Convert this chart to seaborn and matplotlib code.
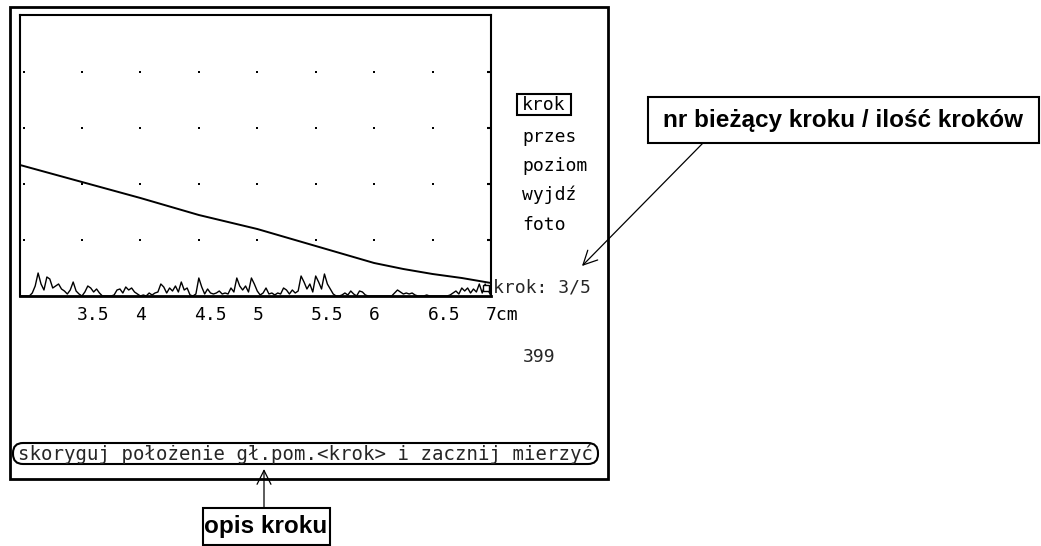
import numpy as np
import pandas as pd
import matplotlib
matplotlib.use("Agg")
import matplotlib.pyplot as plt
from matplotlib.patches import Rectangle, FancyBboxPatch, FancyArrowPatch
import matplotlib.transforms as mtransforms
import seaborn as sns

# ---- data -------------------------------------------------------------
# measured profile (position in cm, level in screen units)
profile_x = [2.97, 3.5, 4.0, 4.5, 5.0, 5.5, 6.0, 6.25, 6.5, 6.75, 7.0]
profile_y = [131, 114, 98, 81, 67, 50, 33, 27, 22, 18, 13]

# raw detector signal, sampled every 0.025 cm starting at 2.975 cm
signal_start = 2.975
signal_step = 0.025
signal_y = [
    0, 0, 0, 0, 3, 10, 23, 12, 6, 19, 17,
    8, 10, 12, 7, 5, 2, 6, 14, 5, 2,
    0, 4, 10, 8, 4, 7, 3, 0, 0, 0,
    0, 1, 6, 7, 3, 9, 6, 8, 4, 2,
    0, 1, 0, 3, 1, 3, 4, 12, 9, 3,
    8, 5, 10, 4, 14, 6, 8, 1, 0, 2,
    18, 9, 2, 7, 3, 2, 3, 5, 2, 3,
    2, 8, 4, 18, 10, 6, 10, 4, 18, 12,
    5, 1, 3, 8, 2, 3, 1, 3, 2, 8,
    6, 2, 6, 3, 5, 20, 14, 7, 12, 4,
    20, 14, 7, 22, 12, 7, 2, 0, 0, 1,
    3, 1, 5, 2, 0, 5, 4, 1, 0, 0,
    0, 0, 0, 0, 0, 0, 0, 3, 6, 4,
    2, 3, 2, 3, 1, 0, 0, 0, 1, 0,
    0, 0, 0, 0, 0, 0, 1, 3, 5, 2,
    8, 5, 8, 3, 7, 4, 12, 3, 12, 6,
    0,
]
signal_x = [signal_start + signal_step * i for i in range(len(signal_y))]

x_ticks = [3.0, 3.5, 4.0, 4.5, 5.0, 5.5, 6.0, 6.5, 7.0]
x_tick_labels = ["", "3.5", "4", "4.5", "5", "5.5", "6", "6.5", "7cm"]
grid_x = [3.0, 3.5, 4.0, 4.5, 5.0, 5.5, 6.0, 6.5]
grid_y = [56, 112, 168, 224]

menu_items = ["krok", "przes", "poziom", "wyjdź", "foto"]
step_text = "krok: 3/5"
counter_text = "399"
hint_text = "skoryguj położenie gł.pom.<krok> i zacznij mierzyć"
note_step_count = "nr bieżący kroku / ilość kroków"
note_step_desc = "opis kroku"

# ---- figure -----------------------------------------------------------
sns.set_theme(style="white")
plt.rcParams["font.family"] = ["DejaVu Sans Mono", "DejaVu Sans"]

W, H = 1041, 546
fig = plt.figure(figsize=(W / 100, H / 100), dpi=100)
fig.patch.set_facecolor("white")

# plot area (placed in pixel terms: left 20, right 491, top 15, bottom 296)
ax = fig.add_axes([20 / W, 1 - 296 / H, 471 / W, 281 / H])
ax.set_facecolor("white")

sig_df = pd.DataFrame({"x": signal_x, "y": signal_y})
prof_df = pd.DataFrame({"x": profile_x, "y": profile_y})
sns.lineplot(data=sig_df, x="x", y="y", ax=ax, color="black", lw=1.0,
             estimator=None, sort=False)
sns.lineplot(data=prof_df, x="x", y="y", ax=ax, color="black", lw=1.4,
             estimator=None, sort=False)
ax.plot([profile_x[-1] - 0.04], [8], marker="s", ms=5, mfc="white",
        mec="black", mew=1, clip_on=False)

gx, gy = np.meshgrid(grid_x, grid_y)
ax.scatter(gx.ravel(), gy.ravel(), s=1.2, marker="s", color="black", lw=0)

ax.set_xlim(2.97, 7.0)
ax.set_ylim(0, 281)
for s in ax.spines.values():
    s.set_color("black")
    s.set_linewidth(1.5)
ax.spines["bottom"].set_linewidth(2.0)

ax.set_xticks(x_ticks)
ax.set_xticklabels(x_tick_labels, fontsize=13)
ax.tick_params(axis="x", direction="out", length=3, width=1.5, pad=4,
               color="black", labelcolor="black")
offset = mtransforms.ScaledTranslation(-5 / 100, 0, fig.dpi_scale_trans)
for lab in ax.get_xticklabels():
    lab.set_horizontalalignment("left")
    lab.set_transform(lab.get_transform() + offset)

ax.yaxis.tick_right()
ax.set_yticks(grid_y)
ax.tick_params(axis="y", direction="in", length=3, width=1.5,
               labelright=False, labelleft=False, color="black")
ax.set_xlabel("")
ax.set_ylabel("")
ax.grid(False)

# overlay in pixel units for the screen furniture and callouts
ov = fig.add_axes([0, 0, 1, 1], zorder=5)
ov.set_xlim(0, W)
ov.set_ylim(H, 0)
ov.axis("off")

# screen frame
ov.add_patch(Rectangle((10, 7), 598, 472, fill=False, lw=2, ec="black"))

# side menu
menu_y = [105, 137, 166, 195, 225]
for item, py in zip(menu_items, menu_y):
    ov.text(522, py, item, fontsize=13, ha="left", va="center", color="black")
ov.add_patch(Rectangle((517, 94), 54, 21, fill=False, lw=1.5, ec="black"))

ov.text(493, 287, step_text, fontsize=13, ha="left", va="center")
ov.text(523, 357, counter_text, fontsize=13, ha="left", va="center")

# step description bar
ov.add_patch(FancyBboxPatch((13, 443), 585, 21,
                            boxstyle="round,pad=0,rounding_size=10",
                            fill=False, lw=1.5, ec="black"))
ov.text(18, 453.5, hint_text, fontsize=13.65, ha="left", va="center")

# callouts
note_font = dict(family=["Liberation Sans", "DejaVu Sans"],
                 weight="bold", fontsize=17.5, color="black")
ov.add_patch(Rectangle((648, 97), 391, 46, fill=False, lw=1.5, ec="black"))
ov.text(843, 120, note_step_count, ha="center", va="center", **note_font)
ov.add_patch(Rectangle((203, 508), 127, 37, fill=False, lw=1.5, ec="black"))
ov.text(266, 527, note_step_desc, ha="center", va="center", **note_font)

arrow_kw = dict(arrowstyle="->,head_length=0.5,head_width=0.25", lw=0.9,
                color="black", shrinkA=0, shrinkB=0, mutation_scale=20)
ov.add_patch(FancyArrowPatch((703, 143), (582, 266), **arrow_kw))
ov.add_patch(FancyArrowPatch((264, 508), (264, 469), **arrow_kw))

fig.savefig("out.png", dpi=100, facecolor="white")
